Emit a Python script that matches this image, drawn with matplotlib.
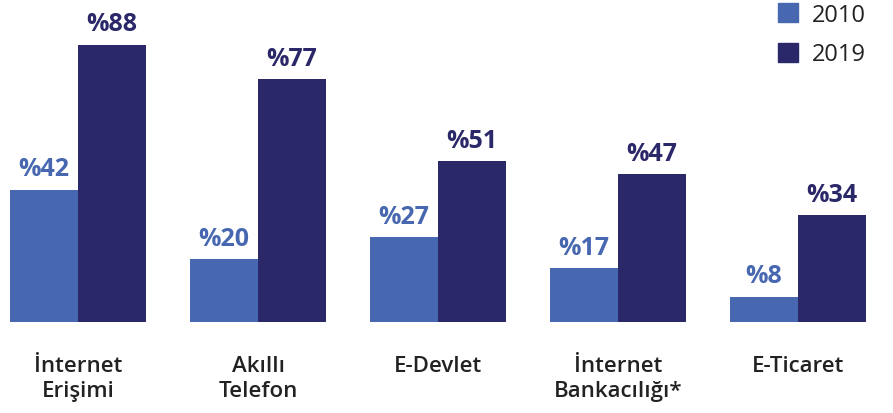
import numpy as np
import matplotlib.pyplot as plt
from matplotlib.patches import Patch

plt.rcParams['font.family'] = ['Open Sans', 'DejaVu Sans']

categories = ['İnternet\nErişimi', 'Akıllı\nTelefon', 'E-Devlet', 'İnternet\nBankacılığı*', 'E-Ticaret']
years = ['2010', '2019']
vals_2010 = [42, 20, 27, 17, 8]
vals_2019 = [88, 77, 51, 47, 34]

c2010 = '#4768b0'
c2019 = '#2a2868'
txt = '#222222'

fig = plt.figure(figsize=(8.93, 4.14), dpi=100)
ax = fig.add_axes([0, 0, 1, 1])

x = np.arange(len(categories))
w = 68 / 180
b1 = ax.bar(x - w / 2, vals_2010, w, color=c2010)
b2 = ax.bar(x + w / 2, vals_2019, w, color=c2019)

# value labels above bars
for bars, vals, col in [(b1, vals_2010, c2010), (b2, vals_2019, c2019)]:
    for r, v in zip(bars, vals):
        ax.annotate('%' + str(v), (r.get_x() + r.get_width() / 2, v),
                    xytext=(0, 6), textcoords='offset points',
                    ha='center', va='bottom', fontsize=18, fontweight='bold', color=col)

# category names under the groups
for xi, lab in zip(x, categories):
    ax.annotate(lab, (xi, 0), xytext=(0, -24), textcoords='offset points',
                ha='center', va='top', fontsize=16, fontweight='semibold',
                color=txt, linespacing=1.25)

ax.set_xlim(-78 / 180, (893 - 78) / 180)
ax.set_ylim(-(414 - 323) / 3.15, 323 / 3.15)
ax.axis('off')

handles = [Patch(color=c2010), Patch(color=c2019)]
fig.legend(handles, years, loc='upper right', bbox_to_anchor=(866 / 893, 1 - 4 / 414),
           frameon=False, fontsize=17, handlelength=0.85, handleheight=0.85,
           handletextpad=0.6, labelspacing=0.65, borderpad=0, borderaxespad=0,
           labelcolor=txt)

fig.savefig('out.png', dpi=100)
